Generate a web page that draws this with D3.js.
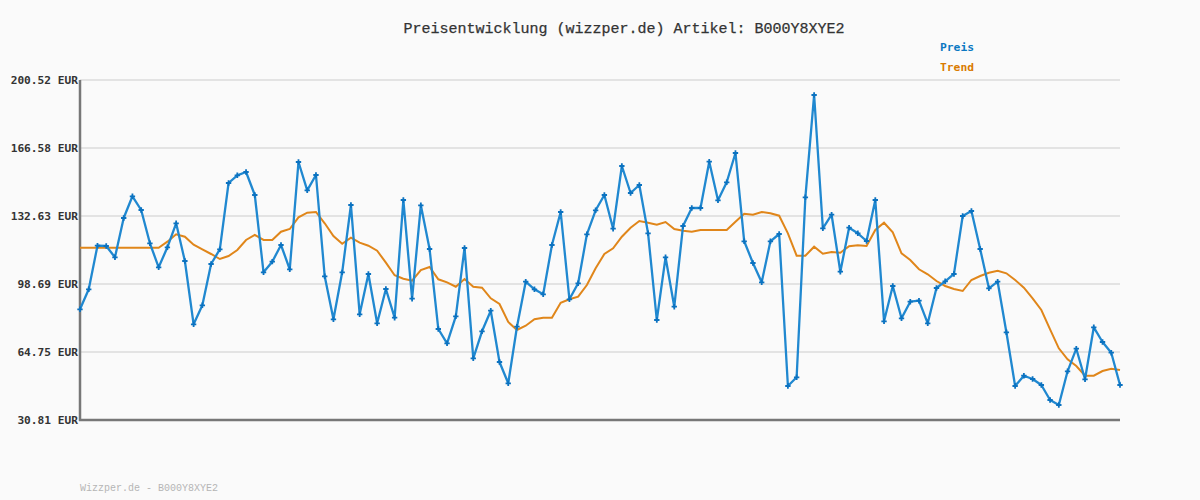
<!DOCTYPE html>
<html><head><meta charset="utf-8">
<script src="https://cdn.jsdelivr.net/npm/d3@7"></script>
<style>
html,body{margin:0;padding:0;background:#fafafa;}
svg{display:block;}
</style></head>
<body>
<svg id="chart" width="1200" height="500"></svg>
<script>
const titleText = "Preisentwicklung (wizzper.de) Artikel: B000Y8XYE2";
const footerText = "Wizzper.de - B000Y8XYE2";
const seriesNames = ["Preis", "Trend"];
const yTicks = [30.81, 64.75, 98.69, 132.63, 166.58, 200.52];
const yTickLabels = ["30.81 EUR", "64.75 EUR", "98.69 EUR", "132.63 EUR", "166.58 EUR", "200.52 EUR"];
const preis = [86.07,96.05,117.81,117.66,112.02,131.64,142.47,135.63,119.01,107.03,
117.01,128.99,110.17,78.58,88.06,108.68,116.01,149.11,152.95,154.60,
143.12,104.53,109.83,118.16,106.03,159.59,145.46,153.10,102.54,81.07,
104.53,138.13,83.57,103.69,79.08,96.20,81.87,140.62,91.36,137.98,
116.16,76.23,69.09,82.57,116.66,61.61,75.08,85.37,59.76,49.13,
77.38,99.84,96.05,93.55,118.16,134.63,91.06,99.04,123.50,135.48,
143.12,126.30,157.59,144.12,148.11,124.00,80.72,112.02,87.36,127.64,
136.63,136.63,159.74,140.47,149.46,164.08,120.01,109.18,99.54,120.01,
123.65,47.78,52.12,141.97,193.03,126.50,133.28,104.83,126.80,124.00,
120.16,140.62,80.08,97.70,81.57,89.86,90.36,79.08,96.70,100.04,
103.69,132.64,135.13,116.16,96.55,99.84,74.59,47.78,52.92,51.28,
48.28,40.79,38.30,55.12,66.40,51.13,77.08,69.74,64.40,48.28];
const trend = [116.81,116.81,116.81,116.81,116.81,116.81,116.81,116.81,116.81,116.81,
119.81,123.50,122.30,118.31,116.01,113.67,111.17,112.67,115.67,120.66,
123.15,120.66,120.66,124.80,126.15,131.99,134.28,134.63,128.99,122.65,
118.81,121.81,119.31,117.81,115.32,109.33,103.04,101.34,100.34,105.68,
107.18,101.04,99.54,97.35,101.19,97.35,96.85,91.56,88.71,79.73,
75.73,77.88,81.07,81.87,81.87,89.36,91.06,92.36,98.20,106.53,
113.67,116.51,122.30,126.80,130.14,129.29,128.29,129.64,126.15,125.30,
124.80,125.65,125.65,125.65,125.65,129.79,133.79,133.28,134.63,133.98,
132.79,124.00,112.82,112.82,117.31,113.82,114.67,114.32,117.51,118.01,
117.66,125.65,129.29,124.50,114.02,110.67,106.03,103.54,100.19,97.70,
96.20,95.20,100.69,102.69,104.33,105.33,104.03,100.69,96.85,91.56,
85.72,76.08,66.60,61.11,57.76,52.92,52.92,55.27,56.42,55.77];

const blue = "#2088d0", orange = "#e0861a";
const svg = d3.select("#chart");
svg.append("rect").attr("width",1200).attr("height",500).attr("fill","#fafafa");

const x = d3.scaleLinear().domain([0, preis.length-1]).range([80, 1120]);
const y = d3.scaleLinear().domain([30.81, 200.52]).range([420, 80]);

// grid
svg.append("g").selectAll("line").data(yTicks).join("line")
  .attr("x1",80).attr("x2",1120)
  .attr("y1",d=>y(d)).attr("y2",d=>y(d))
  .attr("stroke","#e3e3e3").attr("stroke-width",2);

// y axis
const ya = svg.append("g").attr("transform","translate(80,0)")
  .call(d3.axisLeft(y).tickValues(yTicks).tickSize(0).tickPadding(2)
    .tickFormat((d,i)=>yTickLabels[i]));
ya.select(".domain").remove();
ya.selectAll("text").attr("font-family","'DejaVu Sans Mono', monospace")
  .attr("font-weight","bold").attr("font-size","11.2px").attr("fill","#333");

svg.append("line").attr("x1",80).attr("x2",80).attr("y1",y(200.52)).attr("y2",421)
  .attr("stroke","#777").attr("stroke-width",2.5);
svg.append("line").attr("x1",79).attr("x2",1120).attr("y1",420).attr("y2",420)
  .attr("stroke","#777").attr("stroke-width",2.5);

// trend
svg.append("path").datum(trend)
  .attr("d", d3.line().x((d,i)=>x(i)).y(d=>y(d)))
  .attr("fill","none").attr("stroke",orange).attr("stroke-width",2);

// price
svg.append("path").datum(preis)
  .attr("d", d3.line().x((d,i)=>x(i)).y(d=>y(d)))
  .attr("fill","none").attr("stroke",blue).attr("stroke-width",2.3).attr("stroke-linejoin","round");

svg.append("g").selectAll("path").data(preis).join("path")
  .attr("transform",(d,i)=>`translate(${x(i)},${y(d)})`)
  .attr("d", d3.symbol().type(d3.symbolCross).size(16))
  .attr("fill","#0b72c0");

// title
svg.append("text").attr("x",624).attr("y",33).attr("text-anchor","middle")
  .attr("font-family","'Liberation Mono', monospace").attr("font-size","15px")
  .attr("fill","#333").attr("stroke","#333").attr("stroke-width",0.25).text(titleText);

// legend
const legColors = ["#0b78c2", "#d97a00"];
svg.append("g").selectAll("text").data(seriesNames).join("text")
  .attr("x",940).attr("y",(d,i)=>51+i*20)
  .attr("font-family","'DejaVu Sans Mono', monospace").attr("font-weight","bold")
  .attr("font-size","11.3px").attr("fill",(d,i)=>legColors[i]).text(d=>d);

// footer
svg.append("text").attr("x",80).attr("y",491)
  .attr("font-family","'Liberation Mono', monospace").attr("font-size","10px")
  .attr("fill","#b5b5b5").text(footerText);
</script>
</body></html>
